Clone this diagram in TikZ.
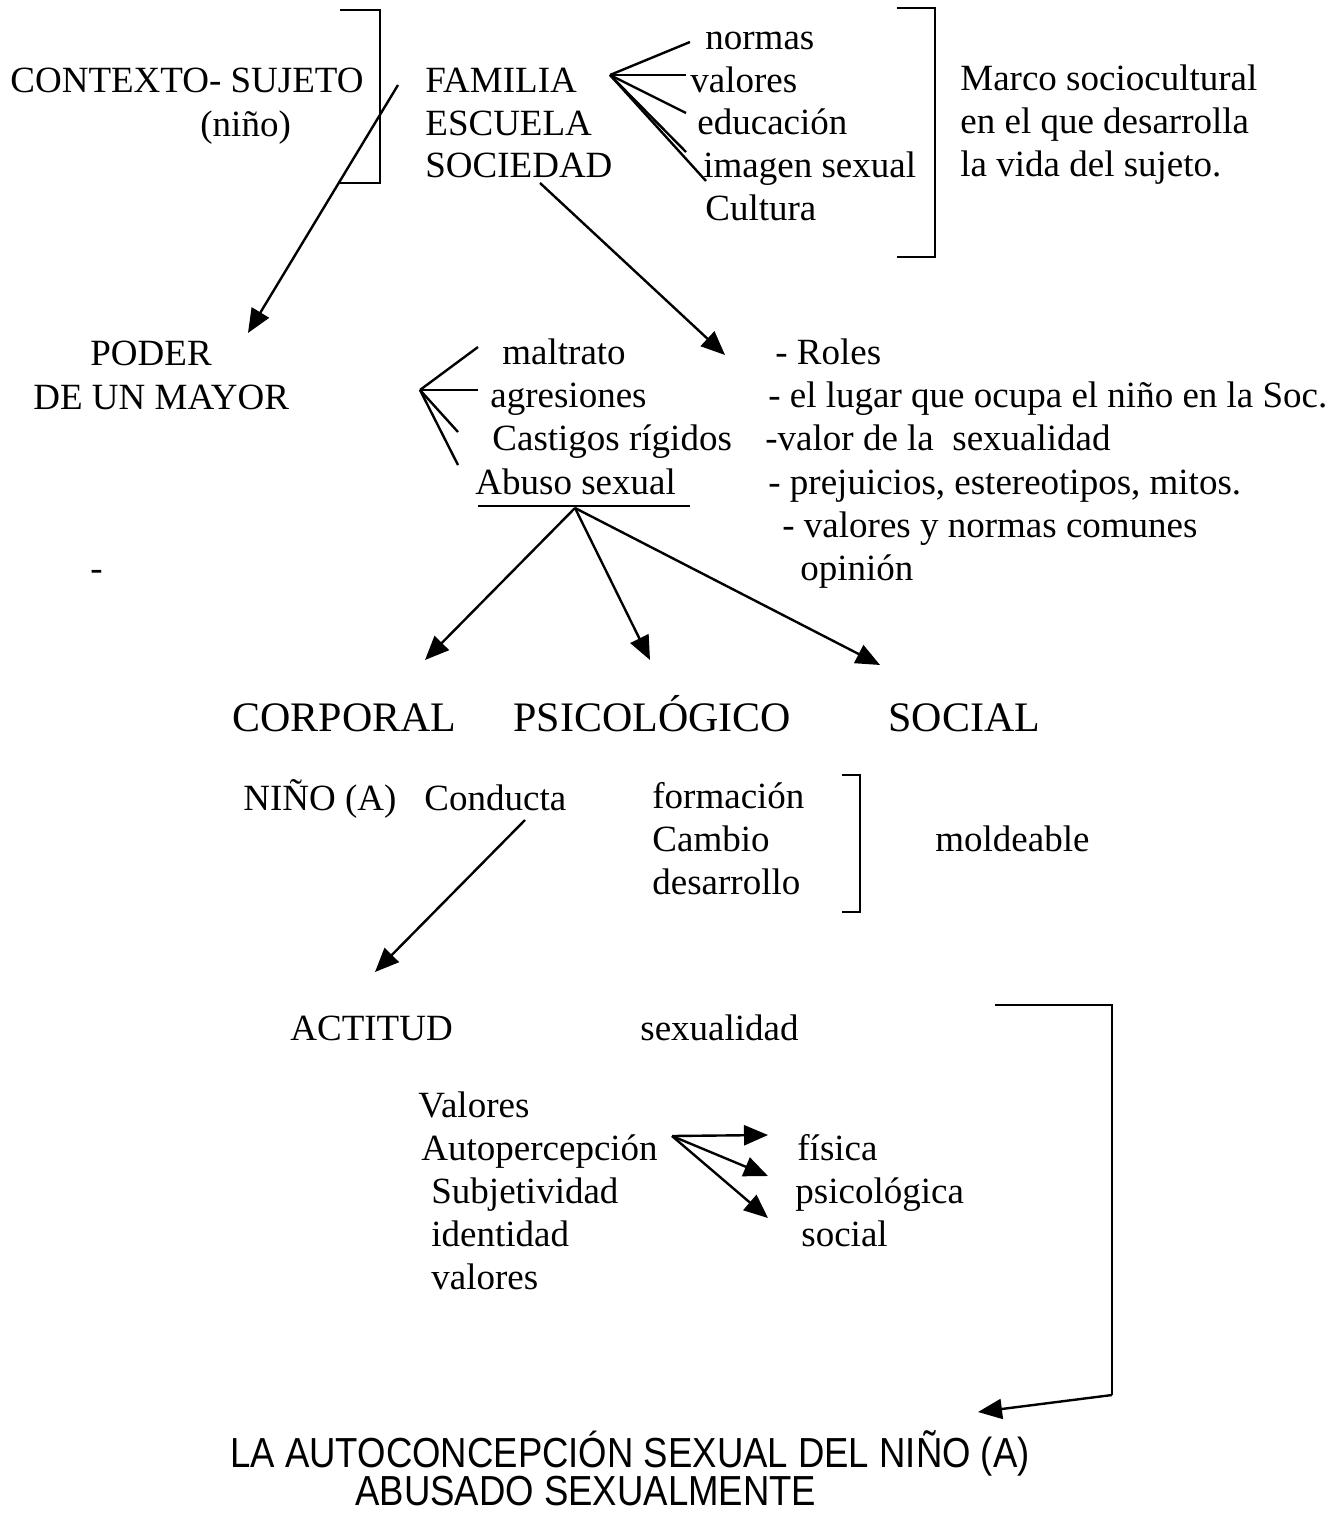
\documentclass[tikz,border=0pt]{standalone}
\usepackage{fontspec}
\setmainfont{Liberation Serif}
\newfontfamily\bottomfont[FakeStretch=0.87]{Liberation Sans}
\usetikzlibrary{arrows.meta}

\tikzset{
	txt/.style={anchor=base west, inner sep=0pt, font=\fontsize{18.5}{22}\selectfont},
	bigtxt/.style={txt, font=\fontsize{21}{25}\selectfont},
	endtxt/.style={txt, font=\bottomfont\fontsize{21}{25}\selectfont},
	ln/.style={line width=1.2pt},
	arr/.style={ln, -{Triangle[length=12pt,width=10pt]}},
	brk/.style={line width=1pt},
}

\begin{document}
\begin{tikzpicture}[x=0.5pt,y=-0.5pt]
		\useasboundingbox (0,0) rectangle (1342,1513);
		% contexto
		\node[txt] (ctx) at (10,93) {CONTEXTO- SUJETO};
		\node[txt] (nino) at (200,137) {(niño)};
		\draw[brk] (340,10) -- (380,10) -- (380,183) -- (340,183);
		\node[txt] (fam) at (425,93) {FAMILIA};
		\node[txt] (esc) at (425,136) {ESCUELA};
		\node[txt] (soc) at (425,178) {SOCIEDAD};
		\node[txt] (norm) at (705,50) {normas};
		\node[txt] (val) at (690,93) {valores};
		\node[txt] (edu) at (697,135) {educación};
		\node[txt] (img) at (703,178) {imagen sexual};
		\node[txt] (cult) at (705,221) {Cultura};
		\draw[brk] (897,8) -- (935,8) -- (935,257) -- (897,257);
		\node[txt] (marco1) at (960,91) {Marco sociocultural};
		\node[txt] (marco2) at (960,134) {en el que desarrolla};
		\node[txt] (marco3) at (960,177) {la vida del sujeto.};
		% fan de la familia
		\coordinate (fv) at (610,75);
		\coordinate (f1) at (690,42);
		\coordinate (f2) at (686,75);
		\coordinate (f3) at (686,113);
		\coordinate (f4) at (686,152);
		\coordinate (f5) at (706,181);
		\foreach \p in {f1,f2,f3,f4,f5}
			\draw[ln] (fv) -- (\p);
		% poder
		\node[txt] (pod1) at (90,366) {PODER};
		\node[txt] (pod2) at (33,409) {DE UN MAYOR};
		\coordinate (a1) at (398,85);
		\coordinate (a2) at (248,333);
		\draw[arr] (a1) -- (a2);
		\coordinate (s1) at (540,183);
		\coordinate (s2) at (725,355);
		\draw[arr] (s1) -- (s2);
		% maltrato
		\node[txt] (malt) at (502,365) {maltrato};
		\node[txt] (agr) at (490,408) {agresiones};
		\node[txt] (cast) at (492,451) {Castigos rígidos};
		\node[txt] (abu) at (475,494) {Abuso sexual};
		\coordinate (mv) at (420,390);
		\coordinate (m1) at (478,347);
		\coordinate (m2) at (478,390);
		\coordinate (m3) at (458,432);
		\coordinate (m4) at (458,465);
		\foreach \p in {m1,m2,m3,m4}
			\draw[ln] (mv) -- (\p);
		\coordinate (u1) at (478,506);
		\coordinate (u2) at (690,506);
		\draw[ln] (u1) -- (u2);
		\node[txt] (dash) at (90,580) {-};
		% roles
		\node[txt] (rol) at (775,365) {- Roles};
		\node[txt] (lug) at (768,408) {- el lugar que ocupa el niño en la Soc.};
		\node[txt] (vals) at (765,451) {-valor de la\ \ sexualidad};
		\node[txt] (prej) at (768,494) {- prejuicios, estereotipos, mitos.};
		\node[txt] (vyn) at (782,537) {- valores y normas comunes};
		\node[txt] (opi) at (800,580) {opinión};
		% dimensiones
		\node[bigtxt] (corp) at (232,731) {CORPORAL};
		\node[bigtxt] (psi) at (513,731) {PSICOLÓGICO};
		\node[bigtxt] (socl) at (888,731) {SOCIAL};
		\coordinate (av) at (575,508);
		\coordinate (ac) at (425,660);
		\coordinate (ap) at (650,660);
		\coordinate (as) at (880,665);
		\foreach \p in {ac,ap,as}
			\draw[arr] (av) -- (\p);
		% conducta
		\node[txt] (nna) at (243,810) {NIÑO (A)};
		\node[txt] (cond) at (424,810) {Conducta};
		\node[txt] (form) at (652,808) {formación};
		\node[txt] (camb) at (652,851) {Cambio};
		\node[txt] (desa) at (652,894) {desarrollo};
		\draw[brk] (842,775) -- (860,775) -- (860,912) -- (842,912);
		\node[txt] (mold) at (935,851) {moldeable};
		\coordinate (c1) at (525,820);
		\coordinate (c2) at (375,972);
		\draw[arr] (c1) -- (c2);
		% actitud
		\node[txt] (act) at (290,1040) {ACTITUD};
		\node[txt] (sex) at (640,1040) {sexualidad};
		\node[txt] (v1) at (418,1117) {Valores};
		\node[txt] (aut) at (421,1160) {Autopercepción};
		\node[txt] (subj) at (431,1203) {Subjetividad};
		\node[txt] (iden) at (431,1246) {identidad};
		\node[txt] (v2) at (431,1289) {valores};
		\node[txt] (fis) at (797,1160) {física};
		\node[txt] (psl) at (795,1203) {psicológica};
		\node[txt] (scl) at (801,1246) {social};
		\coordinate (pv) at (672,1136);
		\coordinate (p1) at (768,1135);
		\coordinate (p2) at (768,1176);
		\coordinate (p3) at (768,1218);
		\foreach \p in {p1,p2,p3}
			\draw[arr] (pv) -- (\p);
		\coordinate (b1) at (995,1005);
		\coordinate (b2) at (1112,1005);
		\coordinate (b3) at (1112,1395);
		\coordinate (b4) at (978,1412);
		\draw[brk] (b1) -- (b2) -- (b3);
		\draw[arr] (b3) -- (b4);
		% conclusion
		\node[endtxt] (fin1) at (230,1467) {LA AUTOCONCEPCIÓN SEXUAL DEL NIÑO (A)};
		\node[endtxt] (fin2) at (355,1505) {ABUSADO SEXUALMENTE};
		\end{tikzpicture}
\end{document}
